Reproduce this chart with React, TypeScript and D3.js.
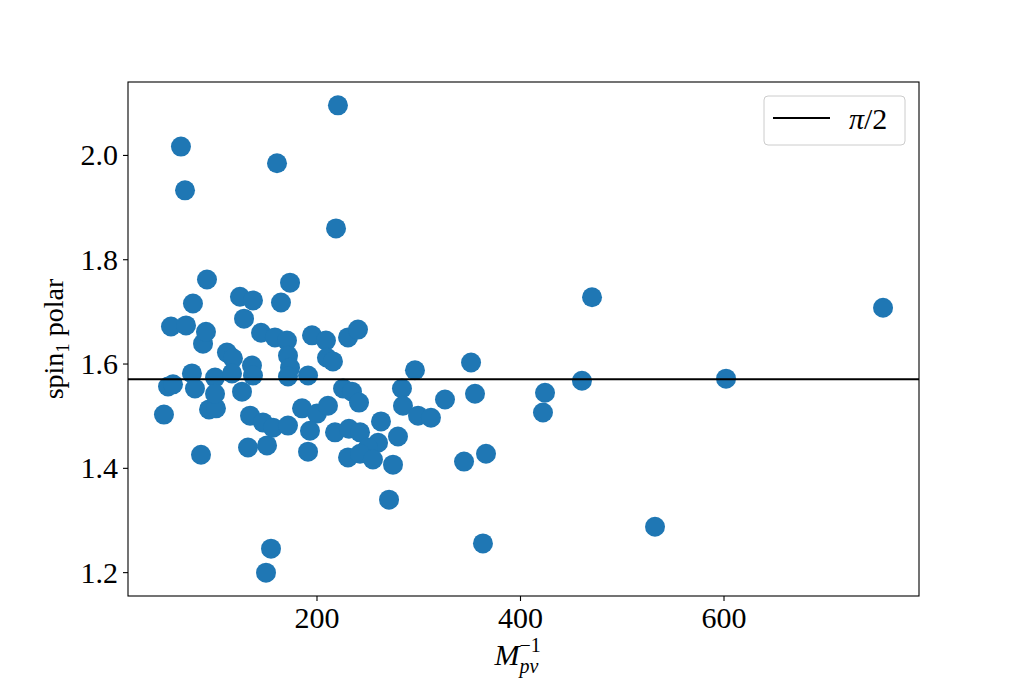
import React from "react";
import * as d3 from "d3";

const massInv: number[] = [
  49.6, 53.6, 58.5, 56.5, 66.3, 70.3, 71.3, 77.1, 78.1, 80.1,
  88.0, 90.9, 91.9, 86.0, 93.9, 100.7, 99.8, 99.8, 111.5, 117.4,
  116.5, 124.3, 128.3, 126.3, 137.1, 136.1, 137.1, 134.2, 132.2, 146.9,
  150.9, 156.8, 145.0, 158.7, 170.5, 160.7, 164.6, 173.5, 171.5, 154.8,
  149.9, 171.5, 173.5, 171.5, 191.2, 195.1, 208.8, 209.8, 215.7, 185.3,
  200.0, 210.8, 193.1, 191.2, 220.6, 218.7, 230.5, 240.3, 225.6, 234.4,
  241.3, 217.7, 231.4, 242.3, 262.9, 260.0, 250.1, 279.6, 230.5, 242.3,
  255.0, 274.7, 270.8, 283.5, 284.5, 299.3, 312.0, 325.8, 296.3, 351.4,
  355.3, 344.5, 366.1, 363.1, 424.1, 422.1, 460.4, 470.3, 532.2, 602.0,
  756.3,
];

const spinPolar: number[] = [
  1.503, 1.557, 1.561, 1.672, 2.017, 1.933, 1.674, 1.582, 1.716, 1.553,
  1.639, 1.662, 1.762, 1.426, 1.513, 1.515, 1.574, 1.543, 1.622, 1.611,
  1.582, 1.729, 1.687, 1.547, 1.722, 1.597, 1.578, 1.501, 1.440, 1.488,
  1.444, 1.478, 1.660, 1.651, 1.645, 1.985, 1.718, 1.756, 1.482, 1.246,
  1.200, 1.616, 1.593, 1.576, 1.578, 1.655, 1.645, 1.612, 1.605, 1.515,
  1.505, 1.520, 1.472, 1.432, 2.096, 1.860, 1.651, 1.666, 1.553, 1.547,
  1.526, 1.469, 1.476, 1.469, 1.490, 1.449, 1.440, 1.461, 1.421, 1.428,
  1.417, 1.407, 1.340, 1.553, 1.520, 1.501, 1.497, 1.532, 1.588, 1.603,
  1.543, 1.413, 1.428, 1.256, 1.545, 1.507, 1.568, 1.728, 1.288, 1.572,
  1.708,
];

const xTicks: number[] = [200, 400, 600];
const yTicks: number[] = [1.2, 1.4, 1.6, 1.8, 2.0];
const refValue = Math.PI / 2;
const legendLabel = "π/2";

const W = 1021;
const H = 681;
const L = 128;
const R = 919;
const T = 82;
const B = 596;
const FONT = "'Liberation Serif', 'DejaVu Serif', serif";
const BLUE = "#1f77b4";

function padded(vals: number[]): [number, number] {
  const mn = d3.min(vals) as number;
  const mx = d3.max(vals) as number;
  const p = (mx - mn) * 0.05;
  return [mn - p, mx + p];
}

export default function App() {
  const x = d3.scaleLinear().domain(padded(massInv)).range([L, R]);
  const y = d3.scaleLinear().domain(padded(spinPolar)).range([B, T]);
  const pts = massInv.map((m, i) => ({ m, s: spinPolar[i] }));
  const yRef = y(refValue);
  const cx = (L + R) / 2;
  const cy = (T + B) / 2;

  return (
    <svg
      width={W}
      height={H}
      viewBox={`0 0 ${W} ${H}`}
      style={{ position: "absolute", left: 0, top: 0, background: "#fff" }}
      fontFamily={FONT}
    >
      <rect x={0} y={0} width={W} height={H} fill="#fff" />
      {pts.map((p, i) => (
        <circle key={i} cx={x(p.m)} cy={y(p.s)} r={10} fill={BLUE} />
      ))}
      <line x1={L} x2={R} y1={yRef} y2={yRef} stroke="#000" strokeWidth={2} />
      <rect x={L} y={T} width={R - L} height={B - T} fill="none" stroke="#000" strokeWidth={1.1} />

      {xTicks.map((t) => (
        <g key={t}>
          <line x1={x(t)} x2={x(t)} y1={B} y2={B + 5} stroke="#000" strokeWidth={1.1} />
          <text x={x(t)} y={B + 32} textAnchor="middle" fontSize={30} fill="#000">
            {t}
          </text>
        </g>
      ))}
      {yTicks.map((t) => (
        <g key={t}>
          <line x1={L - 5} x2={L} y1={y(t)} y2={y(t)} stroke="#000" strokeWidth={1.1} />
          <text x={L - 10} y={y(t) + 10} textAnchor="end" fontSize={30} fill="#000">
            {t.toFixed(1)}
          </text>
        </g>
      ))}

      {/* y label */}
      <text transform={`translate(63,${cy}) rotate(-90)`} textAnchor="middle" fontSize={28} fill="#000">
        spin
        <tspan fontSize={19} dy={6}>1</tspan>
        <tspan dy={-6}> polar</tspan>
      </text>

      {/* x label */}
      <text x={cx - 29} y={665} fontSize={30} fontStyle="italic" fill="#000">M</text>
      <text x={cx - 4} y={652} fontSize={20} fill="#000">−1</text>
      <text x={cx - 4} y={673} fontSize={20} fontStyle="italic" fill="#000">pv</text>

      {/* legend */}
      <rect x={764} y={96} width={141} height={49} rx={4} ry={4} fill="#fff" fillOpacity={0.8} stroke="#cccccc" strokeWidth={1} />
      <line x1={773} x2={830} y1={118} y2={118} stroke="#000" strokeWidth={2} />
      <text x={849} y={129} fontSize={30} fill="#000">
        <tspan fontStyle="italic">{legendLabel.slice(0, 1)}</tspan>
        <tspan>{legendLabel.slice(1)}</tspan>
      </text>
    </svg>
  );
}
